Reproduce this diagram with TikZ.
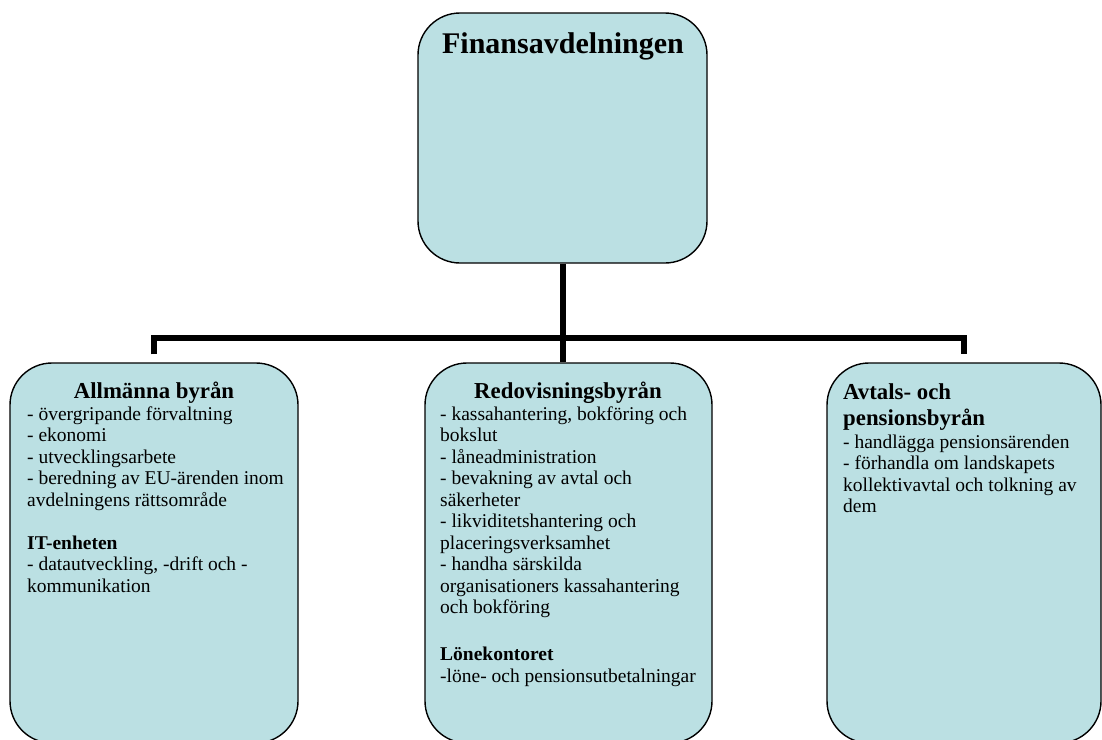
\documentclass[tikz,border=0pt]{standalone}
\usepackage{fontspec}
\setmainfont{Liberation Serif}
\definecolor{boxfill}{RGB}{187,224,227}
\tikzset{
  unit/.style={draw=black, line width=1.4pt, fill=boxfill, rounded corners=42pt,
               rectangle, inner sep=0pt},
  bar/.style={line width=6pt, line join=miter, line cap=butt},
  head/.style={inner sep=0pt, font=\fontsize{22.8}{26}\selectfont\bfseries},
  body/.style={inner sep=0pt, font=\fontsize{19.5}{21.5}\selectfont},
}
\begin{document}
\begin{tikzpicture}[x=1pt,y=-1pt]
\useasboundingbox (0,0) rectangle (1102,739);
\clip (0,0) rectangle (1102,739);

% department and its three bureaus
\node[unit, minimum width=289pt, minimum height=250pt] (dept) at (562.5,138) {};
\node[unit, minimum width=288pt, minimum height=380pt] (allm) at (154,553) {};
\node[unit, minimum width=287pt, minimum height=380pt] (redo) at (568.5,553) {};
\node[unit, minimum width=274pt, minimum height=380pt] (avtal) at (964,553) {};

% connecting lines
\coordinate (bus) at (563,338);
\draw[bar] (dept.south) -- (dept.south |- redo.north);
\draw[bar] ([yshift=8pt]allm.north) |- (bus) -| ([yshift=8pt]avtal.north);

% titles
\node[anchor=base, inner sep=0pt, font=\fontsize{30}{34}\selectfont\bfseries]
  (depttitle) at (563,53) {Finansavdelningen};
\node[head, anchor=base] (allmhead) at (154,398) {Allmänna byrån};
\node[head, anchor=base] (redohead) at (568,398) {Redovisningsbyrån};
\node[head, anchor=base west] (avtalhead) at (843,399)
  {\parbox[t]{250pt}{\raggedright Avtals- och\\ pensionsbyrån}};

% task lists
\node[body, anchor=base west] (allmbody) at (27,420) {\parbox[t]{300pt}{\raggedright
- övergripande förvaltning\\
- ekonomi\\
- utvecklingsarbete\\
- beredning av EU-ärenden inom\\
avdelningens rättsområde\\[21.5pt]
\textbf{IT-enheten}\\
- datautveckling, -drift och -\\
kommunikation}};

\node[body, anchor=base west] (redobody) at (440,420) {\parbox[t]{300pt}{\raggedright
- kassahantering, bokföring och\\
bokslut\\
- låneadministration\\
- bevakning av avtal och\\
säkerheter\\
- likviditetshantering och\\
placeringsverksamhet\\
- handha särskilda\\
organisationers kassahantering\\
och bokföring\\[25.5pt]
\textbf{Lönekontoret}\\
-löne- och pensionsutbetalningar}};

\node[body, anchor=base west] (avtalbody) at (843,448) {\parbox[t]{300pt}{\raggedright
- handlägga pensionsärenden\\
- förhandla om landskapets\\
kollektivavtal och tolkning av\\
dem}};
\end{tikzpicture}
\end{document}
